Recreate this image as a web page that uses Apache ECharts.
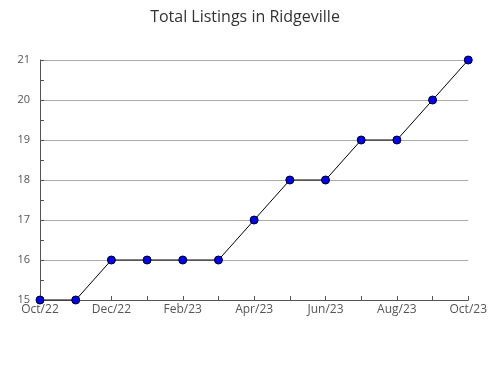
<!DOCTYPE html>
<html><head><meta charset="utf-8">
<script src="https://cdn.jsdelivr.net/npm/echarts@6/dist/echarts.min.js"></script>
<style>html,body{margin:0;padding:0;background:#fff}#c{width:490px;height:380px}</style>
</head><body><div id="c"></div>
<script>
const months = ["Oct/22","Nov/22","Dec/22","Jan/23","Feb/23","Mar/23","Apr/23","May/23","Jun/23","Jul/23","Aug/23","Sep/23","Oct/23"];
const listings = [15,15,16,16,16,16,17,18,18,19,19,20,21];
const yTicks = [15,16,17,18,19,20,21];
const chart = echarts.init(document.getElementById('c'));
chart.setOption({
  animation:false,
  title:{text:"Total Listings in Ridgeville",left:'center',top:4,textStyle:{fontFamily:"Open Sans",fontSize:16,fontWeight:'normal',color:'#333'}},
  grid:{left:40,right:20,top:60,bottom:80,containLabel:false},
  xAxis:{type:'category',data:months,boundaryGap:false,
    axisLine:{lineStyle:{color:'#555',width:1}},
    axisTick:{show:true,inside:true,length:4,interval:0,lineStyle:{color:'#555'}},
    axisLabel:{interval:1,color:'#555',fontFamily:"Open Sans",fontSize:12,margin:4},
    splitLine:{show:false}},
  yAxis:{type:'value',min:yTicks[0],max:yTicks[yTicks.length-1],interval:1,
    axisLine:{show:true,lineStyle:{color:'#555',width:1}},
    axisTick:{show:true,inside:true,length:4,lineStyle:{color:'#555'}},
    minorTick:{show:true,splitNumber:2,length:4,lineStyle:{color:'#555'}},
    axisLabel:{color:'#555',fontFamily:"Open Sans",fontSize:11,margin:10},
    splitLine:{show:true,lineStyle:{color:'#aaa',width:1}}},
  series:[{type:'line',data:listings,symbol:'circle',symbolSize:8,
    itemStyle:{color:'#0000ff',borderColor:'#000',borderWidth:1},
    lineStyle:{color:'#000',width:1}}]
});
</script></body></html>
